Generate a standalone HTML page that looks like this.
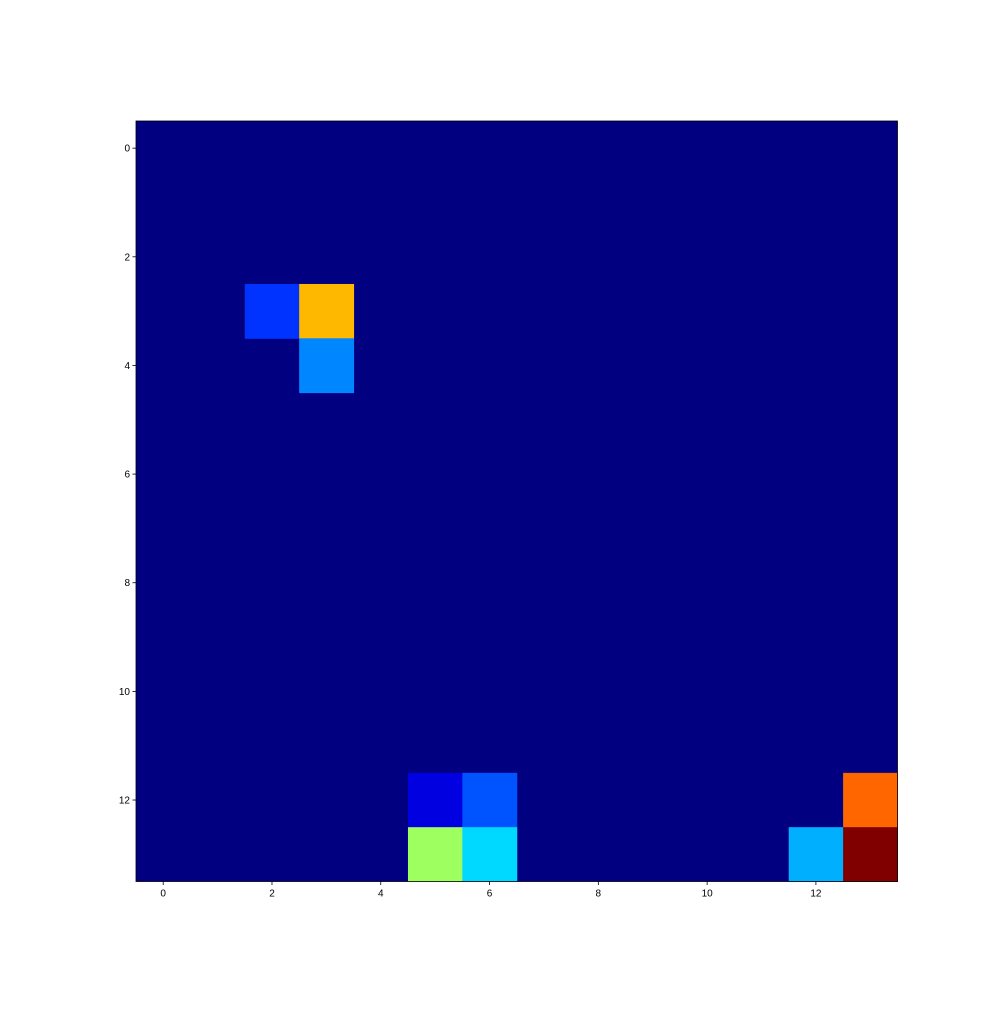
<!DOCTYPE html>
<html><head><meta charset="utf-8"><style>
body{margin:0;background:#fff;width:1008px;height:1008px;overflow:hidden}
text{font-family:"Liberation Sans","DejaVu Sans",sans-serif;font-size:10px;fill:#000}
</style></head><body>
<svg id="chart" width="1008" height="1008" viewBox="0 0 1008 1008" xmlns="http://www.w3.org/2000/svg"></svg>
<script>
const nRows = 14;
const nCols = 14;
const cellRows = [3, 3, 4, 12, 12, 12, 13, 13, 13, 13];
const cellCols = [2, 3, 3, 5, 6, 13, 5, 6, 12, 13];
const cellValues = [0.175, 0.695, 0.2575, 0.095, 0.2075, 0.775, 0.53, 0.3375, 0.2975, 1.0];
const xTicks = [0, 2, 4, 6, 8, 10, 12];
const yTicks = [0, 2, 4, 6, 8, 10, 12];

const L = 136, T = 121, R = 897.5, B = 881.5;
const cw = (R - L) / nCols, ch = (B - T) / nRows;
const xs = c => L + (c + 0.5) * cw;
const ys = r => T + (r + 0.5) * ch;
function clip(v){return Math.max(0, Math.min(1, v));}
function jet(x){
  const r = clip(1.5 - Math.abs(4*x - 3)), g = clip(1.5 - Math.abs(4*x - 2)), b = clip(1.5 - Math.abs(4*x - 1));
  return `rgb(${Math.round(r*255)},${Math.round(g*255)},${Math.round(b*255)})`;
}
const NS = "http://www.w3.org/2000/svg";
const svg = document.getElementById('chart');
function mk(tag, attrs){const e = document.createElementNS(NS, tag); for (const k in attrs) e.setAttribute(k, attrs[k]); svg.appendChild(e); return e;}

const bg = mk('rect', {x:L, y:T, width:R-L, height:B-T, fill:jet(0)});



cellValues.forEach((v, i) => {
  const c = mk('rect', {x:xs(cellCols[i]) - cw/2, y:ys(cellRows[i]) - ch/2, width:cw + 0.5, height:ch + 0.5, fill:jet(v)});
  
  
});

const frame = mk('rect', {x:L, y:T, width:R-L, height:B-T, fill:'none', stroke:'#000', 'stroke-width':0.8});



xTicks.forEach(t => {
  const x = xs(t);
  const ln = mk('line', {x1:x, y1:B, x2:x, y2:B + 3.5, stroke:'#000', 'stroke-width':0.8});
  
  
  const tx = mk('text', {x:x, y:B + 15, 'text-anchor':'middle'});
  tx.textContent = t;
  
  
});
yTicks.forEach(t => {
  const y = ys(t);
  const ln = mk('line', {x1:L - 3.5, y1:y, x2:L, y2:y, stroke:'#000', 'stroke-width':0.8});
  
  
  const tx = mk('text', {x:L - 6, y:y + 3.5, 'text-anchor':'end'});
  tx.textContent = t;
  
  
});
</script>
</body></html>
